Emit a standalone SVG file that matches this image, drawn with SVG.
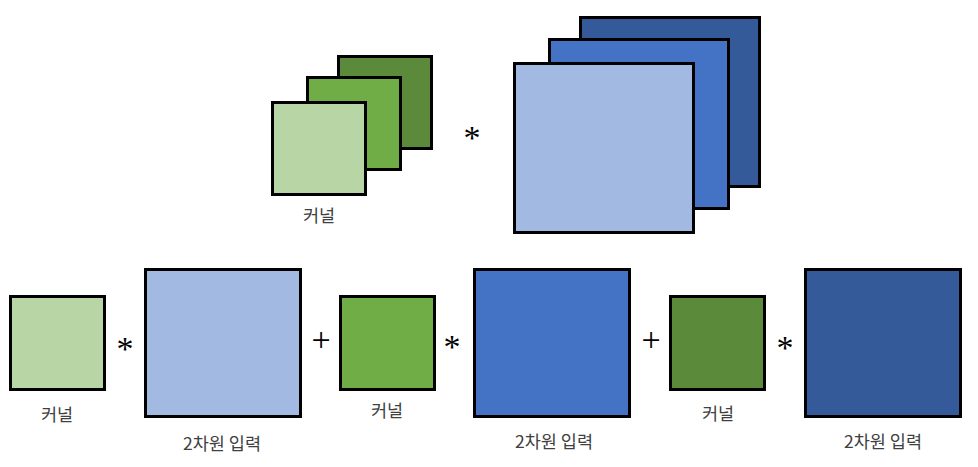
<svg xmlns="http://www.w3.org/2000/svg" width="978" height="467" viewBox="0 0 978 467">
<style>
.box{stroke:#000;stroke-width:3}
.g1{fill:#B8D6A5}.g2{fill:#70AD47}.g3{fill:#5A8A3A}
.b1{fill:#A2B9E2}.b2{fill:#4472C4}.b3{fill:#345A9A}
.lbl{font-family:"Noto Sans CJK KR","Noto Sans",sans-serif;font-size:17.5px;fill:#404040;text-anchor:middle}
.op{font-family:"Liberation Serif","Times New Roman",serif;fill:#000;text-anchor:middle}
.ast{font-size:34px}.plus{font-size:34px}
</style>
<rect width="978" height="467" fill="#fff"/>
<g id="kernel-stack">
<rect class="box g3" x="338.5" y="56.5" width="93" height="92"/>
<rect class="box g2" x="307.5" y="77.5" width="93" height="92"/>
<rect class="box g1" x="272.5" y="102.5" width="93" height="92"/>
<text class="lbl" x="319" y="222">커널</text>
</g>
<g id="input-stack">
<rect class="box b3" x="580.5" y="17.5" width="179" height="169"/>
<rect class="box b2" x="549.5" y="39.5" width="179" height="169"/>
<rect class="box b1" x="514.5" y="63.5" width="179" height="169"/>
</g>
<g id="kernel-1">
<rect class="box g1" x="10.5" y="296.5" width="94" height="93"/>
<text class="lbl" x="57" y="421">커널</text>
</g>
<g id="input-1">
<rect class="box b1" x="145.5" y="269.5" width="155" height="147"/>
<text class="lbl" x="222" y="450">2차원 입력</text>
</g>
<g id="kernel-2">
<rect class="box g2" x="340.5" y="296.5" width="94" height="93"/>
<text class="lbl" x="387" y="417">커널</text>
</g>
<g id="input-2">
<rect class="box b2" x="474.5" y="269.5" width="155" height="147"/>
<text class="lbl" x="554" y="448">2차원 입력</text>
</g>
<g id="kernel-3">
<rect class="box g3" x="670.5" y="296.5" width="94" height="93"/>
<text class="lbl" x="718" y="420">커널</text>
</g>
<g id="input-3">
<rect class="box b3" x="805.5" y="269.5" width="155" height="147"/>
<text class="lbl" x="883" y="448">2차원 입력</text>
</g>
<g id="operators">
<text class="op ast" x="472" y="148.5">*</text>
<text class="op ast" x="125" y="360">*</text>
<text class="op ast" x="452" y="358">*</text>
<text class="op ast" x="785" y="359">*</text>
<text class="op plus" x="321" y="350.5">+</text>
<text class="op plus" x="651" y="350.5">+</text>
</g>
</svg>
